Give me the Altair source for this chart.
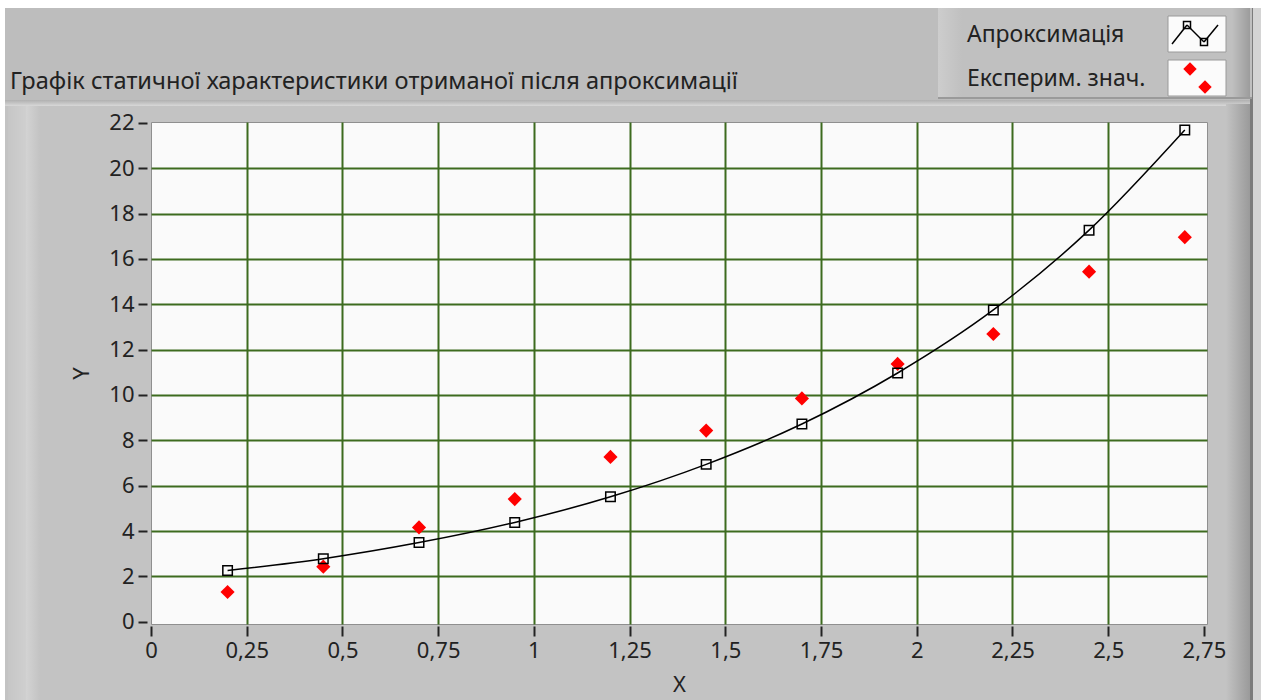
import altair as alt
import pandas as pd

# Measured points: X values, fitted (approximation) curve and experimental values
x_vals = [0.2, 0.45, 0.7, 0.95, 1.2, 1.45, 1.7, 1.95, 2.2, 2.45, 2.7]
approx_vals = [2.26, 2.78, 3.49, 4.38, 5.51, 6.94, 8.72, 10.97, 13.75, 17.27, 21.69]
exper_vals = [1.31, 2.43, 4.16, 5.41, 7.27, 8.43, 9.85, 11.37, 12.69, 15.44, 16.96]

x_ticks = [0, 0.25, 0.5, 0.75, 1, 1.25, 1.5, 1.75, 2, 2.25, 2.5, 2.75]
y_ticks = [0, 2, 4, 6, 8, 10, 12, 14, 16, 18, 20, 22]

series_names = ["Апроксимація", "Експерим. знач."]
title_text = "Графік статичної характеристики отриманої після апроксимації"

FONT = "Noto Sans"
TEXT = "#222222"
GRID = "#3d6b1f"

# Plot-area origin inside the 1261x700 canvas
OX, OY = 151, 122
W, H = 1056, 502

df = pd.DataFrame({"x": x_vals, "approx": approx_vals, "exper": exper_vals})

x_scale = alt.Scale(domain=[0, 2.758], nice=False, zero=False)
y_scale = alt.Scale(domain=[-0.1, 22.04], nice=False, zero=False)

comma_label = "replace(toString(datum.value), '.', ',')"

x_axis = alt.Axis(
    values=x_ticks, labelExpr=comma_label, title="X",
    grid=True, gridColor=GRID, gridWidth=2,
    gridOpacity={"condition": {"test": "datum.value === 0 || datum.value === 2.75", "value": 0}, "value": 1},
    domain=False, ticks=True, tickColor=TEXT, tickSize=10, tickWidth=2, offset=2,
    labelPadding=4, labelFont=FONT, labelFontSize=22, labelColor=TEXT, labelFlush=False,
    titleFont=FONT, titleFontSize=22, titleFontWeight="normal", titleColor=TEXT, titlePadding=13,
)
y_axis = alt.Axis(
    values=y_ticks, title="Y",
    grid=True, gridColor=GRID, gridWidth=2,
    gridOpacity={"condition": {"test": "datum.value === 0 || datum.value === 22", "value": 0}, "value": 1},
    domain=False, ticks=True, tickColor=TEXT, tickSize=9, tickWidth=2, offset=4,
    labelPadding=4, labelFont=FONT, labelFontSize=22, labelColor=TEXT, labelFlush=False,
    titleFont=FONT, titleFontSize=22, titleFontWeight="normal", titleColor=TEXT, titlePadding=15,
)

one = alt.Data(values=[{}])


def box(x0, y0, x1, y1, fill, **kw):
    """Panel/bevel rectangle given in canvas pixels."""
    return alt.Chart(one).mark_rect(fill=fill, **kw).encode(
        x=alt.value(x0 - OX), x2=alt.value(x1 - OX),
        y=alt.value(y0 - OY), y2=alt.value(y1 - OY),
    )


def hgrad(c0, c1):
    return alt.LinearGradient(
        gradient="linear", x1=0, x2=1, y1=0, y2=0,
        stops=[alt.GradientStop(color=c0, offset=0), alt.GradientStop(color=c1, offset=1)],
    )


def vgrad(c0, c1):
    return alt.LinearGradient(
        gradient="linear", x1=0, x2=0, y1=0, y2=1,
        stops=[alt.GradientStop(color=c0, offset=0), alt.GradientStop(color=c1, offset=1)],
    )


def label(x, y, text, size, align="left"):
    return alt.Chart(one).mark_text(
        text=text, font=FONT, fontSize=size, color=TEXT, align=align, baseline="middle"
    ).encode(x=alt.value(x - OX), y=alt.value(y - OY))


def rule(x0, y0, x1, y1, color="black", width=1.5):
    return alt.Chart(one).mark_rule(color=color, strokeWidth=width).encode(
        x=alt.value(x0 - OX), x2=alt.value(x1 - OX),
        y=alt.value(y0 - OY), y2=alt.value(y1 - OY),
    )


def glyph(x, y, shape, size, filled, color, sw=1.5):
    return alt.Chart(one).mark_point(
        shape=shape, size=size, filled=filled, color=color, strokeWidth=sw, opacity=1
    ).encode(x=alt.value(x - OX), y=alt.value(y - OY))


# Front-panel frame, bevels and header strip
frame = [
    box(0, 0, 1261, 8, "#ffffff"),
    box(0, 0, 5, 700, "#ffffff"),
    box(5, 8, 1252, 100, "#bdbdbd"),
    box(5, 100, 1252, 106, vgrad("#b0b0b0", "#d8d8d8")),
    box(8, 106, 34, 700, hgrad("#c6c6c6", "#d3d3d3")),
    box(26, 106, 40, 700, hgrad("#d3d3d3", "#c3c3c3")),
    box(1226, 104, 1250, 700, hgrad("#c3c3c3", "#9a9a9a")),
    box(1250, 8, 1253, 700, "#7c7c7c"),
    box(1253, 8, 1261, 700, "#d4d4d4"),
    # legend panel
    box(938, 8, 1252, 99, "#c0c0c0"),
    box(938, 8, 962, 99, hgrad("#cdcdcd", "#c0c0c0")),
    box(1232, 8, 1250, 99, hgrad("#c0c0c0", "#9c9c9c")),
    box(938, 97, 1252, 99, "#9a9a9a"),
    box(1168, 16, 1226, 52, "#fbfbfb", stroke="#9a9a9a", strokeWidth=1),
    box(1168, 60, 1226, 96, "#fbfbfb", stroke="#9a9a9a", strokeWidth=1),
]

legend_keys = [
    rule(1172, 44, 1187, 25),
    rule(1187, 25, 1204, 42),
    rule(1204, 42, 1218, 25),
    glyph(1187, 25, "square", 49, False, "black"),
    glyph(1204, 42, "square", 49, False, "black"),
    glyph(1190, 69, "diamond", 180, True, "red"),
    glyph(1205, 87, "diamond", 180, True, "red"),
]

texts = [
    label(10, 82, title_text, 23.6),
    label(967, 35, series_names[0], 23),
    label(967, 79, series_names[1], 23),
]

base = alt.Chart(df)

exper_pts = base.mark_point(
    shape="diamond", filled=True, color="#ff0000", size=200, opacity=1
).encode(x=alt.X("x:Q", scale=x_scale, axis=x_axis), y=alt.Y("exper:Q", scale=y_scale, axis=y_axis))

approx_line = base.mark_line(color="black", strokeWidth=1.5, interpolate="monotone").encode(
    x=alt.X("x:Q", scale=x_scale, axis=x_axis), y=alt.Y("approx:Q", scale=y_scale, axis=y_axis)
)

approx_pts = base.mark_point(
    shape="square", filled=False, color="black", size=90, strokeWidth=1.5, opacity=1
).encode(x=alt.X("x:Q", scale=x_scale, axis=x_axis), y=alt.Y("approx:Q", scale=y_scale, axis=y_axis))

chart = alt.layer(
    *frame, *legend_keys, *texts, exper_pts, approx_line, approx_pts
).properties(
    width=W, height=H,
    padding={"left": OX, "top": OY, "right": 1261 - OX - W, "bottom": 700 - OY - H},
    autosize=alt.AutoSizeParams(type="none"),
    background="#c3c3c3",
).configure_view(
    fill="#fafafa", stroke="#8f8f8f", strokeWidth=1
)

chart.save("out.html", embed_options={"renderer": "svg", "actions": False})
